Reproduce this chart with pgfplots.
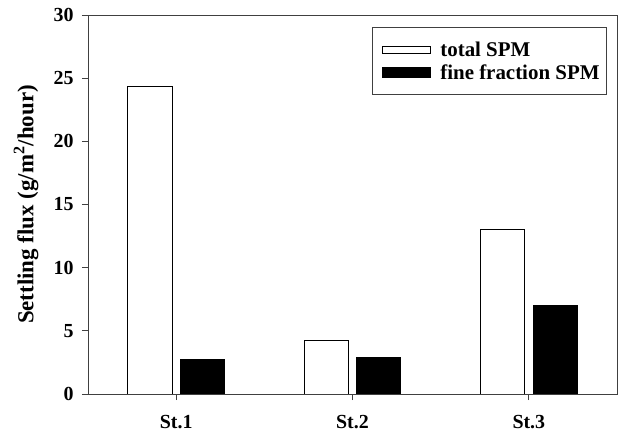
\documentclass[border=0pt]{standalone}
\usepackage{fontspec}
\setmainfont{Liberation Serif}
\usepackage{pgfplots}
\pgfplotsset{compat=1.18}
\begin{document}
\begin{tikzpicture}
\begin{axis}[
  scale only axis, width=529bp, height=379bp,
  xmin=0.5, xmax=3.5, ymin=0, ymax=30,
  xtick={1,2,3}, xticklabels={St.1,St.2,St.3},
  ytick={0,5,...,30},
  tick pos=left, tick align=outside, major tick length=6bp,
  axis line style={black!75, line width=0.8bp},
  every tick/.style={black!75, line width=0.8bp},
  /pgf/number format/assume math mode=true,
  tick label style={font=\fontsize{20}{24}\selectfont\bfseries},
  xticklabel style={yshift=-12bp},
  yticklabel style={xshift=-5bp},
  ylabel={Settling flux (g/m\textsuperscript{2}/hour)},
  ylabel style={font=\fontsize{23}{27}\selectfont\bfseries, at={(axis description cs:-0.117,0.5)}, anchor=center},
  legend style={at={(rel axis cs:0.981,0.968)}, anchor=north east,
    font=\fontsize{21}{25}\selectfont\bfseries, draw=black!75, line width=0.8bp,
    inner xsep=5bp, inner ysep=12bp, row sep=3bp, cells={anchor=west}},
  bar width=0.25,
]
\addplot[ybar, bar shift=-0.149, fill=white, draw=black, line width=0.8bp,
  legend image code/.code={\path (-4bp,0) (56bp,0);\draw[fill=white, draw=black, line width=0.8bp] (0bp,-3.5bp) rectangle (48bp,3.5bp);}]
  coordinates {(1,24.35) (2,4.24) (3,13.0)};
\addlegendentry{total SPM}
\addplot[ybar, bar shift=0.149, fill=black, draw=black, line width=0.8bp,
  legend image code/.code={\path (-4bp,0) (56bp,0);\draw[fill=black, draw=black, line width=0.8bp] (0bp,-5bp) rectangle (48bp,5bp);}]
  coordinates {(1,2.77) (2,2.87) (3,6.99)};
\addlegendentry{fine fraction SPM}
\end{axis}
\pgfresetboundingbox
\path[use as bounding box] ([shift={(-88bp,-38bp)}]current axis.south west) rectangle ([shift={(531bp,394bp)}]current axis.south west);
\end{tikzpicture}
\end{document}
